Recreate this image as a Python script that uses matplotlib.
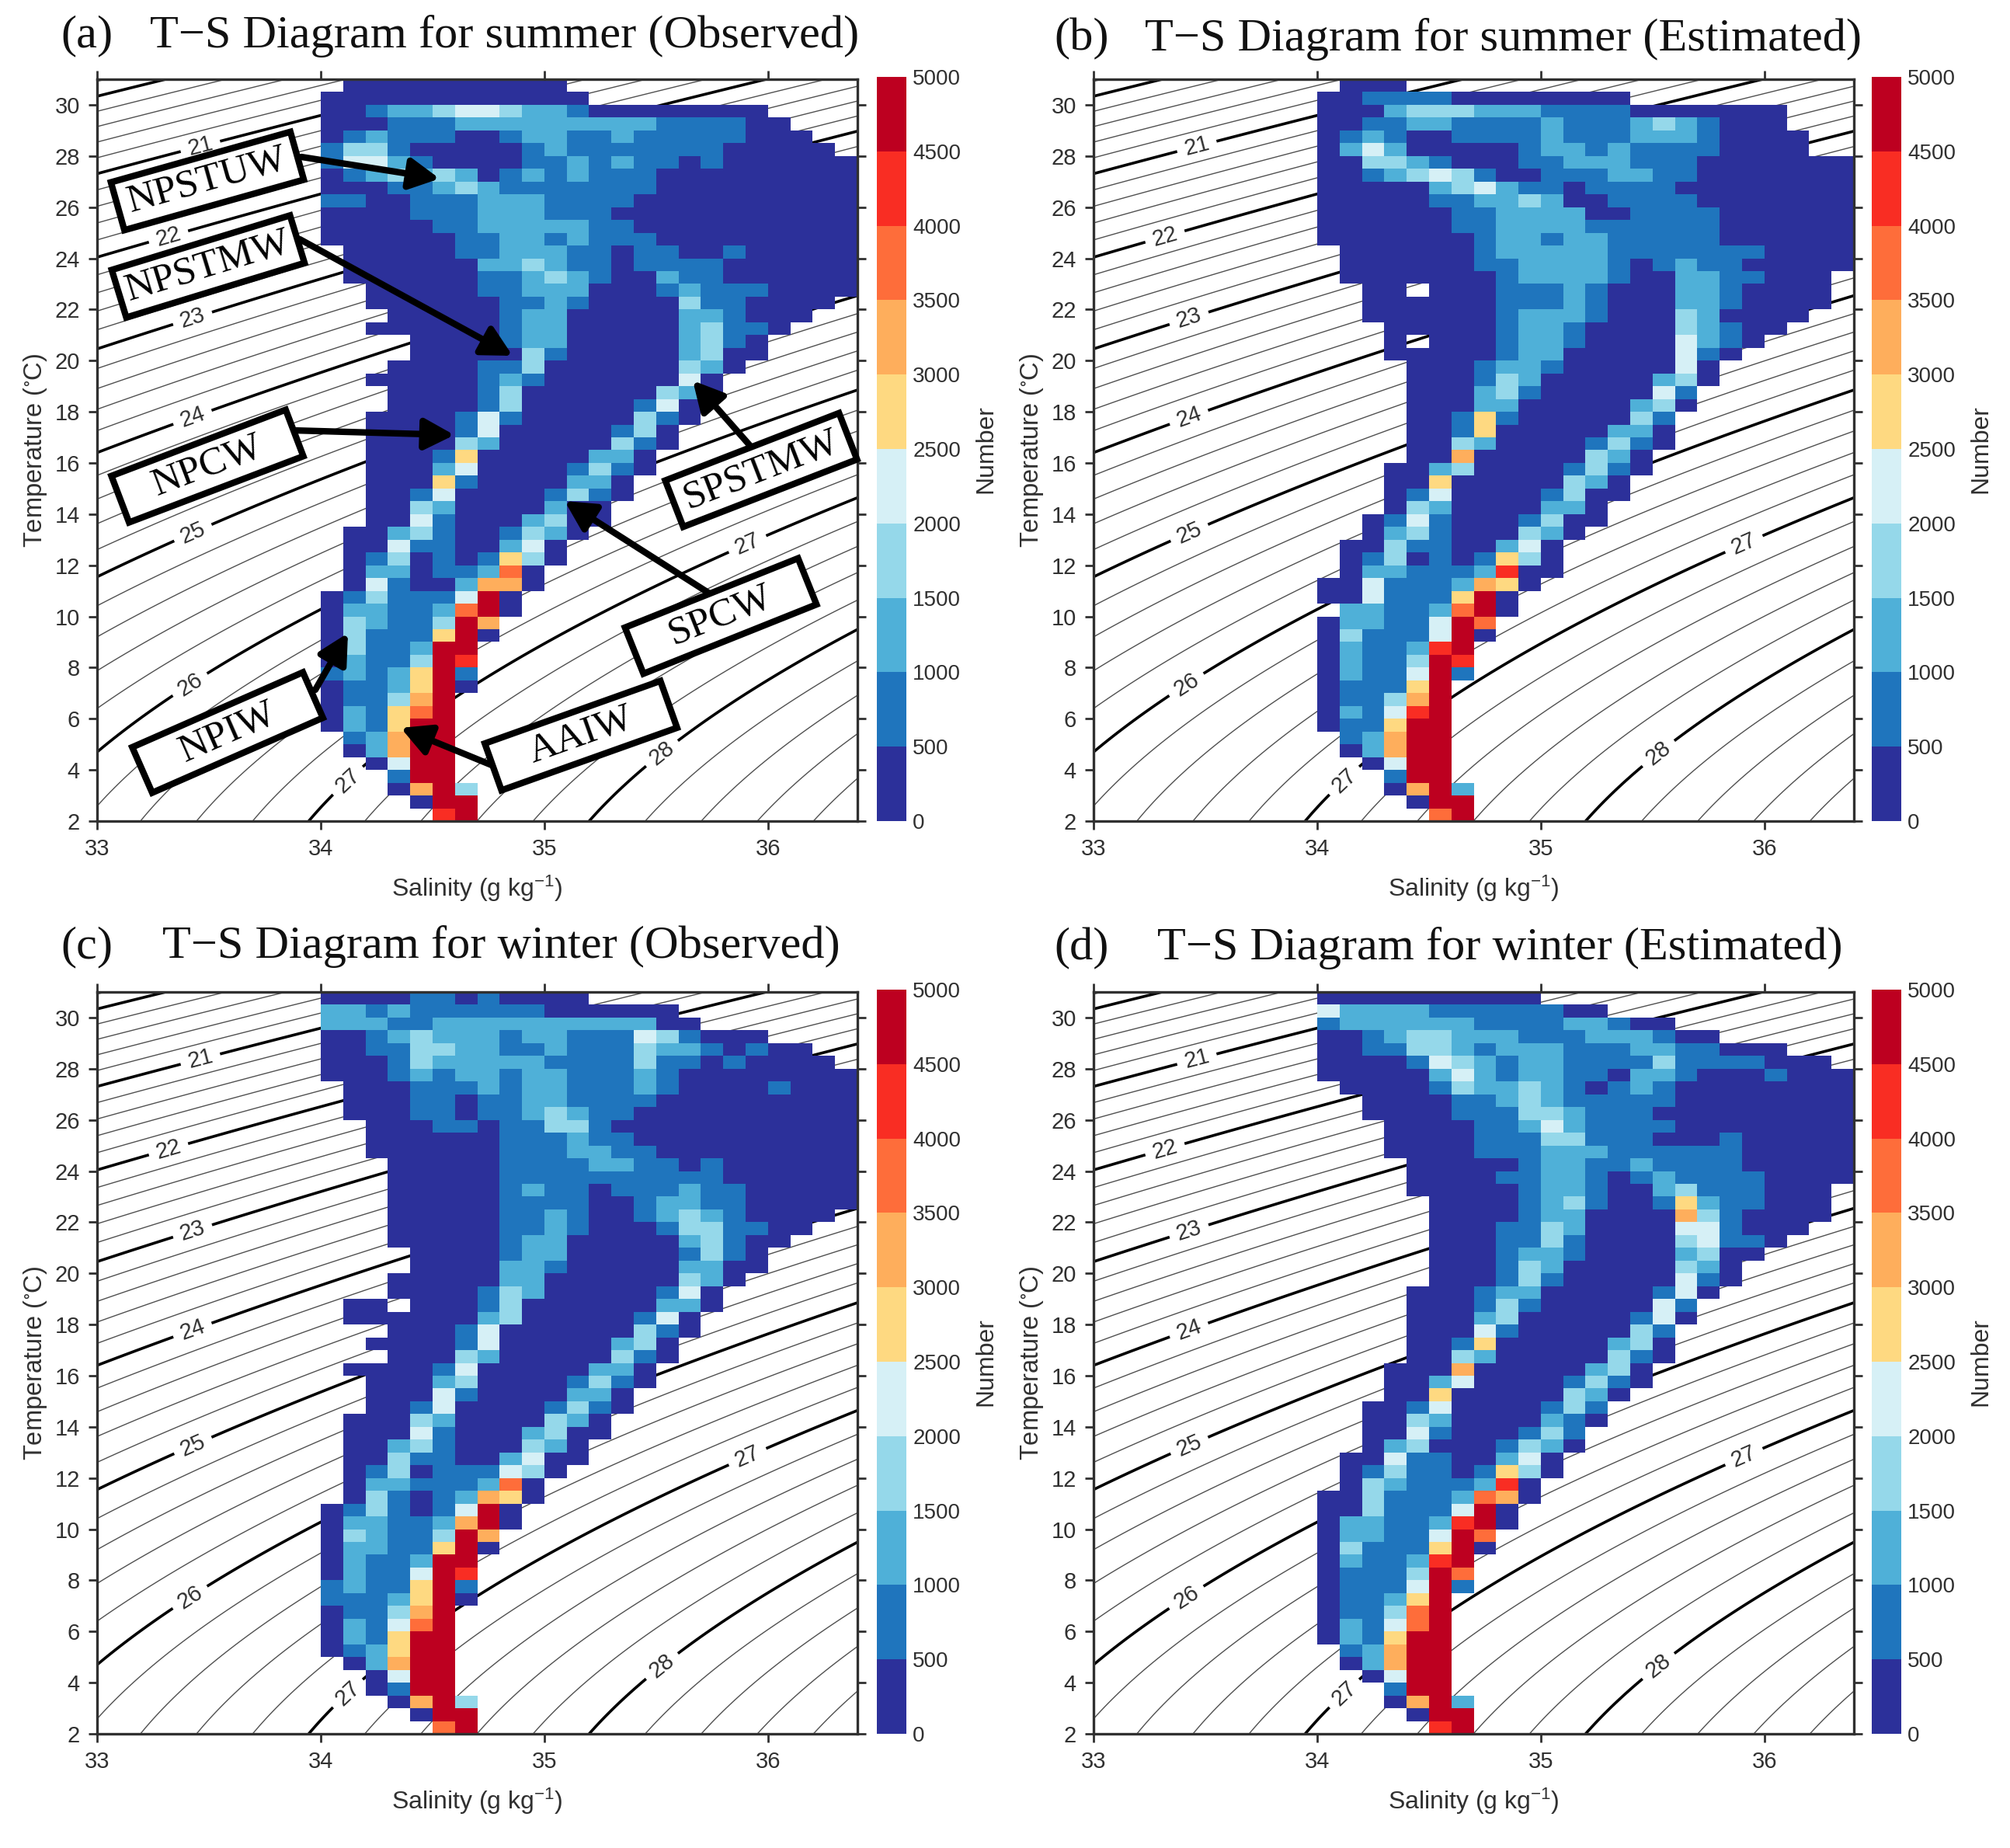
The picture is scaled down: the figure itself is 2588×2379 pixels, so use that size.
import numpy as np
import matplotlib
matplotlib.use("Agg")
import matplotlib.pyplot as plt
from matplotlib.colors import ListedColormap, BoundaryNorm
from matplotlib.patches import Polygon

plt.rcParams['font.family'] = ['Liberation Sans', 'DejaVu Sans']
plt.rcParams['mathtext.default'] = 'regular'

W, H = 2588, 2379

# count class per cell (0 = 0-500 ... 9 = 4500-5000), '.' = empty
# rows from T=31 down to T=2 in 0.5 steps, columns from S=34.0 in 0.1 steps
cells_a = [
    ".0000000000",
    "000000000000",
    "001223443221 00000000",
    "000111 222222222 1111 00",
    "01211100 1 22 11 2 11111 000",
    "1331 00000 1 2 1111111 00000",
    "14421 0000 1 1 2 1 2 11 0 1 000000",
    "012323201212111 000000000",
    "000112321111111 000000000",
    "11 00 111 222 1111 0000000000",
    "0000 111 222 111 00000000000",
    "00000 11 22222 11 0000000000",
    "000000 11 22 1 2 111 000000000",
    ".00000 11 222 11 0 11 00 1 00000",
    ".000000 22 3 2 11 0 1111 000000",
    ".000000 11 2 3 2 1 00 2 11 000000",
    "..00000 11 222 000 1 2 111 0000",
    "..000000 11 2 1 0000 3 11 0000",
    "...00000 1 22 00000 22 1 000",
    "..000000 1 22 00000 2 3 1 1 0",
    "....0000 1 22 00000 2 3 1 0",
    "....00000 3 1 00000 2 3 00",
    "...0000 11 3 000000 3 2 0",
    "..00000 1 2 1 000000 4 0",
    "...0000 1 3 000000 3 2 0",
    "...0000 1 3 00000 1 4 0",
    "..0000 1 4 1 00000 3 1 0",
    "..0000 1 4 00000 1 3 0",
    "..0000 3 2 00000 3 1 0",
    "..000 1 5 00000 22 0",
    "..000 2 4 0000 1 3 1 0",
    "..000 5 1 0000 22 0",
    "..00 1 4 0000 1 3 1 0",
    "..00 3 2 0000 2 00",
    "..00 4 1 000 2 3 00",
    ".00 2 3 1 00 1 3 2 0",
    ".00 4 11 00 2 4 0",
    ".0 1 3 0 1 0 1 5 3 0",
    ".0 22 0 11 2 7 0",
    ".0 4 1 00 2 66 0",
    "01 3 111 4 9 0",
    "0 22 11 2 7 9 0",
    "0 3 2 11 3 9 6",
    "03 111 5 9 0",
    "03 11 2 99",
    "02 11 3 98",
    "1212 5 9 1",
    "0 11 2 5 9 0",
    "0113 6 9",
    "0215 7 9",
    "0215 99",
    ".126 99",
    ".026 99",
    "..04 99",
    "...1 99",
    "...0 6 9 3",
    "....0 99",
    ".....8 9",
]

cells_b = [
    ".000",
    "00 1111 00000000",
    "000 2 333 222 1111 0000000",
    "00 11 22 1111 2 111 2 3 2 1 000",
    "0121 00 1111 2 111 222 1 0000",
    "0242 00000 1 22 1 2 1111 0000",
    "00 33 2 1 000 11 222 111 0000000",
    "00 1 2 3 4 3 1 00 111 22 11 0000000",
    "00000 2 3 4 2 11 0 1111 00000000",
    "00000 11 22 3 2 00 1111 0000000",
    "000000 11 2222 00 1111 000000",
    "000000 11 2222 111111 000000",
    "0000000 1 22 1 22 11111 000000",
    ".000000 1 22222 1111111 0000",
    ".000000 11 2222 1 0 1 2 11 00000",
    ".0000000 1 2222 1 00 22 1 1 000",
    "..00.000 111 2 1 000 22 1 0000",
    "..000000 111 2 1 000 22 1 0000",
    "..000000 1 222 1 000 3 2 0000",
    "...00000 1 22 1 0000 3 2 1 00",
    "...0.000 1 22 1 0000 4 2 1 0",
    "...00000 1 22 00000 4 1 0",
    "....000 1 22 1 00000 4 0",
    "....000 1 3 2 00000 2 3 0",
    "....000 2 3 1 00000 4 1",
    "....000 22 00000 2 3 0",
    "....00 1 5 1 00000 3 1",
    "....00 1 5 00000 22 0",
    "....00 3 2 0000 1 3 1 0",
    "....00 6 00000 3 2 0",
    "...00 2 3 0000 1 3 1 0",
    "...00 5 00000 3 2 0",
    "...0 1 4 0000 1 3 00",
    "...0 3 2 0000 22 0",
    "..0 1 4 1 000 1 3 00",
    "..0 2 3 1 000 3 2 0",
    ".00 3 11 00 2 4 0",
    ".0 1 3 0 1 0 1 5 3 0",
    ".0 22 111 2 8 00",
    "00 4 111 2 6 5 0",
    "00 4 111 5 9 0",
    ".22 11 2 7 9 0",
    "0 22 11 4 9 7",
    "03 111 4 9 0",
    "02 11 2 8 9",
    "02 11 3 9 8",
    "0211 4 9 1",
    "0111 5 9",
    "0113 6 9",
    "0214 8 9",
    "0115 99",
    ".126 99",
    ".026 99",
    "..04 99",
    "...1 99",
    "...0 6 9 2",
    "....0 99",
    ".....7 9",
]

cells_c = [
    "0000 11 0 1 0000",
    "22 1 2 111111 000000",
    "222 11 2222222222 00",
    "00 1 2 3 222 1 22 111 4 3 1 000",
    "00 11 33 22 11 2 111 3 22 1 0 1 00",
    "000 1 3 22222 1111 3 11 0 1 0000",
    "000 1 2 1 22 1 22 111 2 1 00000000",
    ".000 111 2 1 22 111 2 1 0000 1 000",
    ".000 11 0 11 22 1111 000000000",
    ".000 11 0 11 2 3 2 11 0000000000",
    "..000 11 0 11 33 1 00000000000",
    "..000000 111 2 11 0000000000",
    "..000000 111 22 11 000000000",
    "...00000 1111 22 11 0 1 000000",
    "...00000 1111111111 000000",
    "...00000 1 2 11 0 111 2 11 00000",
    "...00000 1111 00 1 22 11 00000",
    "...00000 11 2 1 00 1 2 3 2 1 0000",
    "...00000 11 2 1 000 1 33 1 1 00",
    "...00000 1 22 00000 2 3 1 00",
    "....0000 1 22 00000 1 3 1 0",
    "....0000 22 1 00000 22 00",
    "...00000 22 000000 3 2 0",
    "...0000 1 3 2 00000 1 4 0",
    ".00.000 1 3 000000 22 0",
    ".000000 2 3 00000 1 4 0",
    "...000 1 4 000000 3 1 0",
    "..0000 1 4 00000 2 3 0",
    "...000 3 2 00000 3 1 0",
    ".0000 1 4 00000 22 0",
    "..000 2 3 0000 1 3 1 0",
    "..000 4 1 0000 22 0",
    "..00 1 4 0000 1 3 1 0",
    ".000 3 2 0000 3 2 0",
    ".000 4 1 000 2 3 00",
    ".00 2 3 1 000 3 2 0",
    ".00 3 11 00 2 4 00",
    ".0 1 3 0 111 4 3 0",
    ".0 22 111 2 7 0",
    ".0 3 1 0 1 2 6 5 0",
    "01 3 1 0 1 4 9 0",
    "0 22 11 2 6 9 0",
    "03 2 11 3 9 6",
    "0 22 11 5 9 0",
    "02 11 2 99",
    "0211 4 9 8",
    "1211 5 9 1",
    "111 2 5 9 0",
    "0113 6 9",
    "0214 7 9",
    "0215 99",
    "0125 99",
    ".026 99",
    "..04 99",
    "..01 99",
    "...0 6 9 3",
    "....0 99",
    ".....7 9",
]

cells_d = [
    "0000000000",
    "4 2222 111111 00",
    "1 222222 1111 22 1 00",
    "00 1 2 33 222 111 222 1 00",
    "00 11 33 2 1 2 22 111 22 11 000",
    "0000 1 4 3 2 1 22 1111 3 1111 000",
    "00000 2 4 2 1 22 11 0 22 1 000 1 000",
    ".0000 1 3 22 3 2 1 0 1 2 1 00000000",
    "..0000 11 2 3 2 11111 00000000",
    "..0000 111 33 2 111 000000000",
    "...0000 11 2 4 2 1111 00000000",
    "...0000 111 33 111 000 1 00000",
    "...0000 111 222 111111 00000",
    "....00000 1 22 11 2 1111 00000",
    "....0000 11 22 1 0 1 2 1111 0000",
    "....00000 1 22 1 00 2 3 111 000",
    ".....0000 1 2 3 1 00 1 5 2 11 000",
    ".....0000 1 22 0000 6 3 1 0000",
    ".....000 11 3 2 0000 44 1 000",
    ".....000 11 3 1 0000 3 4 11 0",
    ".....000 1 22 1 0000 2 3 00",
    ".....000 1 3 2 00000 3 2 0",
    ".....000 1 3 1 00000 4 1 0",
    "....000 1 22 00000 1 4 0",
    "....000 1 3 1 00000 4 1",
    "....000 2 3 00000 1 4 0",
    "....000 4 1 00000 3 1",
    "....00 1 5 00000 2 3 0",
    "....00 3 2 00000 3 1 0",
    "...000 6 00000 2 3 0",
    "...00 2 4 0000 1 3 1 0",
    "...00 5 00000 3 2 0",
    "..00 1 4 0000 1 3 1",
    "..00 3 2 0000 2 1 0",
    "..00 4 1 000 1 3 1",
    "..0 2 3 000 1 3 2 0",
    ".00 4 11 00 2 4 0",
    ".0 1 3 11 0 1 5 3 0",
    ".0 3 2 111 2 8 0",
    "00 3 111 2 7 6 0",
    "00 3 111 4 9 0",
    "0 22 11 2 8 9 0",
    "0 22 11 4 9 7",
    "03 111 5 9 0",
    "02 11 2 8 9",
    "0111 3 9 7",
    "0111 4 9 1",
    "0112 5 9",
    "0113 7 9",
    "0214 7 9",
    "0215 99",
    ".126 99",
    ".026 99",
    "..04 99",
    "...1 99",
    "...0 6 9 2",
    "....0 99",
    ".....8 9",
]

titles = ["T\u2212S Diagram for summer (Observed)", "T\u2212S Diagram for summer (Estimated)",
          "T\u2212S Diagram for winter (Observed)", "T\u2212S Diagram for winter (Estimated)"]
letters = ["(a)", "(b)", "(c)", "(d)"]
count_ticks = list(range(0, 5001, 500))
bin_colors = ["#2c309a", "#1f75bd", "#4fb0d8", "#95d8ea", "#d6f0f6",
              "#fed981", "#feae5c", "#fe6d3a", "#f92d23", "#bd0020"]

# contour label spots (S, T), the same in all panels
label_spots = [(33.46, 28.44), (33.32, 24.83), (33.43, 21.57), (33.43, 17.7),
               (33.43, 13.24), (33.42, 7.27), (34.13, 3.5), (35.91, 12.8), (35.53, 4.6)]

# panel pixel boxes: left, right, top, bottom, colorbar left, colorbar right
boxes = [(125, 1104, 102, 1057, 1129, 1167),
         (1408, 2387, 102, 1057, 2410, 2448),
         (125, 1104, 1277, 2232, 1129, 1167),
         (1408, 2387, 1277, 2232, 2410, 2448)]
title_xy = [(78, 650, 46), (1357, 1936, 50), (78, 645, 1219), (1357, 1931, 1221)]

# water-mass boxes in panel (a): text, centre x, centre y, angle
mass_boxes = [("NPSTUW", 267, 233, 15.7), ("NPSTMW", 268, 343, 17.0), ("NPCW", 267, 600, 20.8),
              ("NPIW", 293, 943, 23.7), ("AAIW", 748, 947, 19.6), ("SPCW", 928, 793, 21.8),
              ("SPSTMW", 980, 605, 21.2)]
mass_arrows = [((388, 202), (566, 230)), ((386, 308), (660, 458)), ((377, 554), (585, 560)),
               ((406, 888), (448, 815)), ((638, 987), (516, 937)), ((912, 763), (727, 645)),
               ((966, 574), (892, 490))]


def to_grid(rows):
    out = np.full((len(rows), 24), np.nan)
    for i, row in enumerate(rows):
        row = row.replace(" ", "")
        if len(row) > 24:
            print("long row", i, row)
        for j, c in enumerate(row[:24]):
            if c != ".":
                out[i, j] = (int(c) + 0.5) * 500
    return out


def sigma(s_abs, t):
    # surface density anomaly, UNESCO 1983
    s = s_abs * 35 / 35.16504
    rw = 999.842594 + 6.793952e-2*t - 9.095290e-3*t**2 + 1.001685e-4*t**3 - 1.120083e-6*t**4 + 6.536332e-9*t**5
    a = 8.24493e-1 - 4.0899e-3*t + 7.6438e-5*t**2 - 8.2467e-7*t**3 + 5.3875e-9*t**4
    b = -5.72466e-3 + 1.0227e-4*t - 1.6546e-6*t**2
    return rw + a*s + b*s**1.5 + 4.8314e-4*s**2 - 1000


fig = plt.figure(figsize=(W/100, H/100), dpi=100)
cmap = ListedColormap(bin_colors)
norm = BoundaryNorm(count_ticks, cmap.N)
ink = "#303030"

sal_edges = np.linspace(34, 36.4, 25)
temp_edges = np.linspace(31, 2, 59)
sal_grid, temp_grid = np.meshgrid(np.linspace(33, 36.4, 200), np.linspace(2, 31, 200))
dens = sigma(sal_grid, temp_grid)

thin_levels = [v/5 for v in range(90, 150) if v % 5 != 0]
thick_levels = list(range(19, 30))

for i, rows in enumerate([cells_a, cells_b, cells_c, cells_d]):
    l, r, t, b, cl, cr = boxes[i]
    ax = fig.add_axes([l/W, 1-b/H, (r-l)/W, (b-t)/H])
    ax.contour(sal_grid, temp_grid, dens, levels=thin_levels, colors="#505050", linewidths=1.0, zorder=1)
    cs = ax.contour(sal_grid, temp_grid, dens, levels=thick_levels, colors="k", linewidths=2.6, zorder=1)
    ax.clabel(cs, manual=label_spots, fmt="%d", fontsize=21, colors=ink, inline_spacing=10)
    mesh = ax.pcolormesh(sal_edges, temp_edges, to_grid(rows), cmap=cmap, norm=norm, zorder=2)

    ax.set_xlim(33, 36.4)
    ax.set_ylim(2, 31)
    ax.set_xticks([33, 34, 35, 36])
    ax.set_yticks(range(2, 31, 2))
    ax.tick_params(direction="out", top=True, right=True, length=8, width=2, colors=ink,
                   labelsize=21, pad=8)
    for sp in ax.spines.values():
        sp.set_linewidth(2.4)
        sp.set_color(ink)
        sp.set_zorder(5)
    ax.set_xlabel("Salinity (g kg$^{-1}$)", fontsize=23, color=ink)
    ax.set_ylabel("Temperature ($^{\\circ}$C)", fontsize=23.5, color=ink)
    ax.xaxis.set_label_coords(0.5, -0.071)
    ax.yaxis.set_label_coords(-0.0635, 0.5)

    cax = fig.add_axes([cl/W, 1-b/H, (cr-cl)/W, (b-t+3)/H])
    cbar = fig.colorbar(mesh, cax=cax, ticks=count_ticks, spacing="proportional")
    cbar.outline.set_visible(False)
    cbar.ax.tick_params(length=0, labelsize=20, colors=ink, pad=6)
    cbar.set_label("Number", fontsize=23, color=ink, labelpad=12)

# overlay in pixel coordinates for titles and labels
ov = fig.add_axes([0, 0, 1, 1], zorder=10)
ov.set_xlim(0, W)
ov.set_ylim(H, 0)
ov.axis("off")
ov.patch.set_alpha(0)

serif = ["Liberation Serif", "DejaVu Serif"]
for i in range(4):
    x0, xc, y = title_xy[i]
    ov.text(x0, y, letters[i], family=serif, fontsize=43.5, ha="left", va="center", color="#111111")
    ov.text(xc, y, titles[i], family=serif, fontsize=43.5, ha="center", va="center", color="#111111")

for start, tip in mass_arrows:
    ov.annotate("", xy=tip, xytext=start, zorder=3,
                arrowprops=dict(arrowstyle="-|>,head_length=0.8,head_width=0.42", color="k", lw=6.0,
                                shrinkA=0, shrinkB=0, mutation_scale=29))

for name, cx, cy, ang in mass_boxes:
    a = np.radians(ang)
    ux, uy = np.cos(a), -np.sin(a)
    vx, vy = np.sin(a), np.cos(a)
    hw, hh = 120, 32
    pts = [(cx + sx*hw*ux + sy*hh*vx, cy + sx*hw*uy + sy*hh*vy)
           for sx, sy in [(-1, -1), (1, -1), (1, 1), (-1, 1)]]
    ov.add_patch(Polygon(pts, closed=True, fc="white", ec="k", lw=6, joinstyle="miter", zorder=4))
    ov.text(cx, cy, name, family=serif, fontsize=37, rotation=ang, rotation_mode="anchor",
            ha="center", va="center", color="k", zorder=5)

fig.savefig("out.png", dpi=100)
